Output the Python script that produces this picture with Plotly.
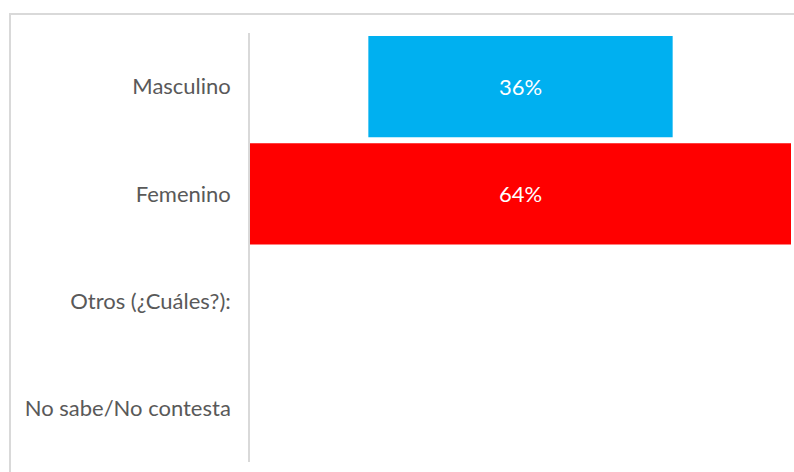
import plotly.graph_objects as go

categories = ["Masculino", "Femenino", "Otros (¿Cuáles?):", "No sabe/No contesta"]
values = [36, 64, 0, 0]
colors = ["#00B0F0", "#FF0000", "#FFFFFF", "#FFFFFF"]
labels = [f"{v}%" if v else "" for v in values]

W, H = 794, 472
ml, mr, mt, mb = 250, 3, 33, 10
pw = W - ml - mr
ph = H - mt - mb

FONT = "Lato"

fig = go.Figure(go.Funnel(
    y=categories,
    x=values,
    text=labels,
    textinfo="text",
    textposition="inside",
    insidetextanchor="middle",
    textfont=dict(color="white", size=22, family=FONT),
    marker=dict(color=colors, line=dict(width=0)),
    connector=dict(visible=False),
    hoverinfo="skip",
))

fig.update_layout(
    width=W, height=H,
    margin=dict(l=ml, r=mr, t=mt, b=mb),
    paper_bgcolor="white", plot_bgcolor="white",
    funnelgap=0.056,
    showlegend=False,
    font=dict(family=FONT, size=22, color="#595959"),
    xaxis=dict(visible=False, range=[-32, 32], fixedrange=True),
    yaxis=dict(
        categoryorder="array", categoryarray=categories, autorange="reversed",
        showline=True, linecolor="#D9D9D9", linewidth=1.5,
        showgrid=False, zeroline=False, ticks="",
        ticklabelstandoff=13,
        tickfont=dict(size=22, color="#595959", family=FONT),
    ),
    shapes=[dict(
        type="rect", xref="paper", yref="paper",
        x0=(10 - ml) / pw, x1=1.2,
        y0=-0.2, y1=1 + (mt - 14) / ph,
        line=dict(color="#D9D9D9", width=2), fillcolor="rgba(0,0,0,0)",
        layer="below",
    )],
)

fig.write_html("out.html")
